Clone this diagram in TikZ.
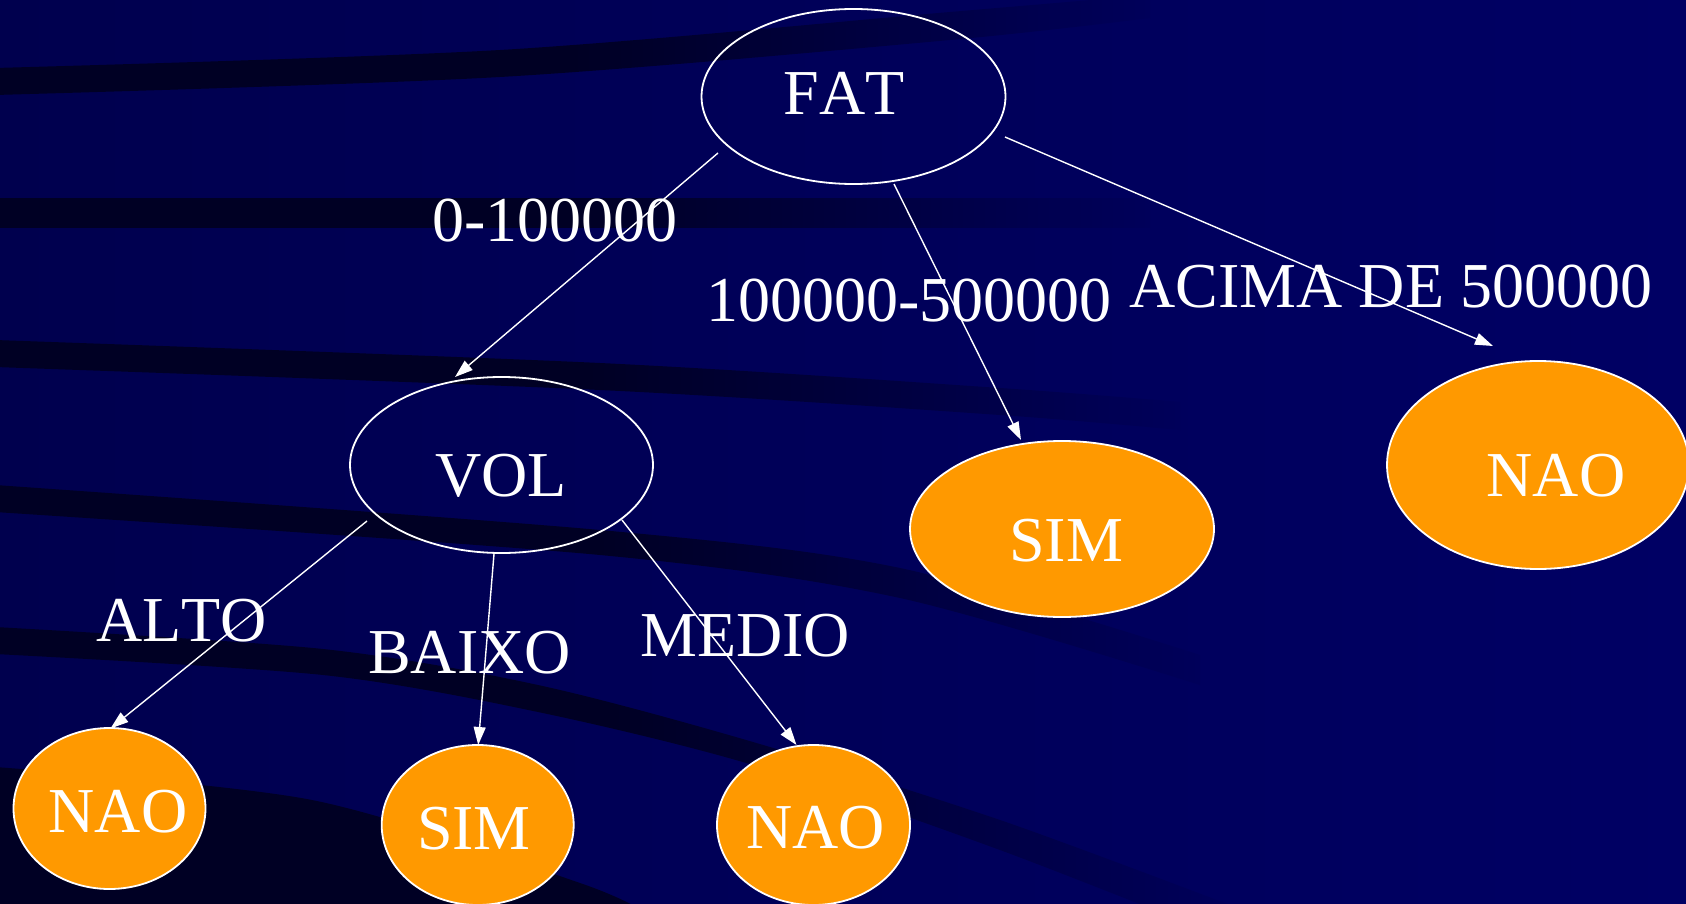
\documentclass[tikz,border=0pt]{standalone}
\usepackage{fontspec}
\setmainfont[Kerning=Off]{Liberation Serif}
\usetikzlibrary{calc,arrows.meta,shapes.geometric}

\definecolor{bgleft}{RGB}{0,0,78}
\definecolor{bgright}{RGB}{0,0,100}
\definecolor{bgmid}{RGB}{0,0,90}
\definecolor{stripedk}{RGB}{0,0,36}
\definecolor{leaforange}{RGB}{255,153,0}

% dark band that keeps its colour for about half its length and then melts into the backdrop
\pgfdeclarehorizontalshading{stripeshade}{100bp}{color(0bp)=(stripedk); color(25bp)=(stripedk); color(50bp)=(stripedk); color(75bp)=(bgmid); color(100bp)=(bgmid)}

\begin{document}
\begin{tikzpicture}[x=0.5pt,y=-0.5pt,
  decision/.style={ellipse, draw=white, line width=0.9pt, inner sep=0pt},
  leaf/.style={decision, fill=leaforange},
  word/.style={text=white, anchor=base, inner sep=0pt, font=\fontsize{32}{38}\selectfont},
  branch/.style={draw=white, line width=0.7pt, -{Triangle[length=9pt,width=6pt]}},
  stripe/.style={shading=stripeshade}
]
\useasboundingbox (0,0) rectangle (1686,904);
\begin{scope}
\clip (0,0) rectangle (1686,904);

% backdrop
\shade[left color=bgleft, right color=bgright] (0,0) rectangle (1686,904);

% sweeping dark bands
\shade[stripe] plot[smooth] coordinates {(-5,68) (500,50) (950,12) (1150,-5)}
  -- plot[smooth] coordinates {(1150,18) (950,40) (500,77) (-5,95)} -- cycle;
\shade[stripe] (-5,198) -- (1150,198) -- (1150,227) -- (-5,227) -- cycle;
\shade[stripe] plot[smooth] coordinates {(-5,340) (600,363) (1000,388) (1180,402)}
  -- plot[smooth] coordinates {(1180,430) (1000,415) (600,390) (-5,367)} -- cycle;
\shade[stripe] plot[smooth] coordinates {(-5,485) (600,530) (900,568) (1200,655)}
  -- plot[smooth] coordinates {(1200,685) (900,598) (600,555) (-5,512)} -- cycle;
\shade[stripe] plot[smooth] coordinates {(-5,627) (323,649) (538,685) (753,742) (1000,820) (1230,905)}
  -- plot[smooth] coordinates {(1230,940) (1000,850) (753,765) (538,712) (323,675) (-5,654)} -- cycle;
\fill[stripedk] plot[smooth] coordinates {(-5,767) (312,800) (580,883) (650,915)}
  -- (-5,915) -- cycle;

% tree nodes
\node[decision, minimum width=152pt, minimum height=87.5pt] (fat) at (853.5,96.5) {};
\node[decision, minimum width=151.5pt, minimum height=88pt] (vol) at (501.5,465) {};
\node[leaf, minimum width=152pt, minimum height=88pt] (sim1) at (1062,529) {};
\node[leaf, minimum width=151pt, minimum height=104pt] (nao1) at (1538,465) {};
\node[leaf, minimum width=96pt, minimum height=80.5pt] (nao2) at (109.5,808.5) {};
\node[leaf, minimum width=96pt, minimum height=80pt] (sim2) at (477.7,825) {};
\node[leaf, minimum width=96.5pt, minimum height=80pt] (nao3) at (813.5,825) {};

% branches
\draw[branch] ($(fat)+(-135.5,56.5)$) -- ($(vol)+(-46.5,-88)$);
\draw[branch] ($(fat)+(40.5,87.5)$) -- ($(sim1)+(-41,-89)$);
\draw[branch] ($(fat)+(151.5,40.5)$) -- ($(nao1)+(-45,-119)$);
\draw[branch] ($(vol)+(-134.5,56)$) -- ($(nao2)+(1,-80)$);
\draw[branch] ($(vol)+(-7.5,89)$) -- ($(sim2)+(0.5,-80)$);
\draw[branch] ($(vol)+(120.5,55)$) -- ($(nao3)+(-17,-80)$);

% node texts
\node[word] (t-fat) at (844,115) {FAT};
\node[word] (t-vol) at (501,496) {VOL};
\node[word] (t-sim1) at (1066,561) {SIM};
\node[word] (t-nao1) at (1556,496) {NAO};
\node[word] (t-nao2) at (118,832) {NAO};
\node[word] (t-sim2) at (474,849) {SIM};
\node[word] (t-nao3) at (815.5,848) {NAO};

% branch labels
\node[word] (l-low) at (555,241) {0-100000};
\node[word] (l-mid) at (909,321) {100000-500000};
\node[word] (l-high) at (1391,307) {ACIMA DE 500000};
\node[word] (l-alto) at (181.5,641) {ALTO};
\node[word] (l-baixo) at (469.5,673) {BAIXO};
\node[word] (l-medio) at (745,656) {MEDIO};
\end{scope}
\end{tikzpicture}
\end{document}
